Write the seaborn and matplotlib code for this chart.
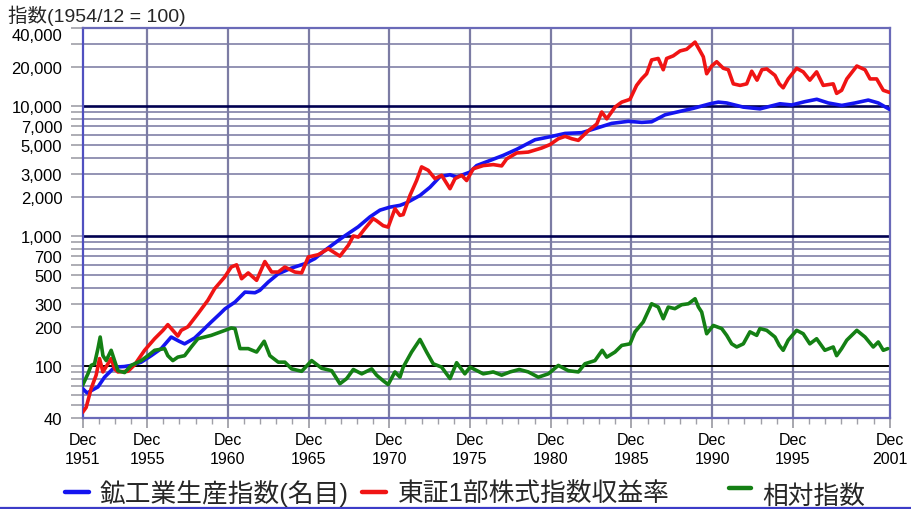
import numpy as np
import pandas as pd
import matplotlib
matplotlib.use("Agg")
import matplotlib.pyplot as plt
import seaborn as sns
from matplotlib.lines import Line2D
from matplotlib.ticker import FixedLocator, NullFormatter

# ---- data (time in fractional years, Dec of a year = year + 11/12) ----
years_ip = [1951.92, 1952.2, 1952.87, 1953.28, 1953.9, 1954.5, 1954.93, 1955.55, 1956.17,
            1956.79, 1957.41, 1957.9, 1958.24, 1958.86, 1959.4, 1959.89, 1960.4, 1960.74,
            1961.36, 1961.98, 1962.6, 1962.9, 1963.42, 1964.04, 1964.87, 1965.69, 1966.31,
            1966.93, 1967.97, 1968.99, 1969.72, 1970.34, 1970.96, 1971.58, 1971.99, 1972.82,
            1973.44, 1974.06, 1974.68, 1975.09, 1975.92, 1976.33, 1977.16, 1977.98, 1978.81,
            1979.95, 1980.88, 1981.81, 1982.84, 1983.67, 1984.7, 1985.72, 1986.56, 1987.17,
            1988.0, 1988.72, 1989.75, 1990.79, 1991.3, 1991.82, 1992.85, 1993.88, 1994.5,
            1995.12, 1995.85, 1996.67, 1997.4, 1998.11, 1998.95, 1999.77, 2000.59, 2001.21,
            2001.92]
ip_index = [67, 62, 69, 82, 98, 99, 101, 107, 120,
            136, 167, 155, 148, 164, 190, 218, 250, 275,
            310, 370, 366, 382, 442, 512, 567, 612, 670,
            775, 965, 1175, 1402, 1580, 1667, 1720, 1800, 2050,
            2370, 2860, 2960, 2840, 3100, 3480, 3810, 4170, 4640,
            5500, 5800, 6150, 6230, 6700, 7350, 7620, 7480, 7560,
            8550, 8970, 9590, 10400, 10710, 10550, 9800, 9500, 9940,
            10400, 10180, 10800, 11260, 10550, 10100, 10550, 11100, 10550,
            9400]

years_tse = [1951.92, 1952.14, 1952.45, 1952.76, 1952.97, 1953.18, 1953.49, 1953.69, 1953.9,
             1954.11, 1954.73, 1955.14, 1955.76, 1956.38, 1956.9, 1957.2, 1957.51, 1957.82,
             1958.03, 1958.44, 1959.06, 1959.68, 1960.1, 1960.72, 1961.13, 1961.46, 1961.77,
             1962.18, 1962.7, 1963.21, 1963.63, 1964.04, 1964.45, 1965.07, 1965.49, 1965.9,
             1966.52, 1967.14, 1967.86, 1968.38, 1968.69, 1969.0, 1969.41, 1969.92, 1970.13,
             1970.54, 1970.85, 1971.27, 1971.58, 1971.78, 1972.2, 1972.61, 1972.92, 1973.33,
             1973.75, 1974.16, 1974.68, 1974.99, 1975.4, 1975.71, 1976.12, 1976.74, 1977.36,
             1977.88, 1978.19, 1978.81, 1979.53, 1980.36, 1980.88, 1981.39, 1981.81, 1982.22,
             1982.63, 1983.25, 1983.77, 1984.08, 1984.39, 1984.9, 1985.32, 1985.83, 1986.24,
             1986.55, 1986.86, 1987.17, 1987.58, 1987.89, 1988.1, 1988.51, 1988.93, 1989.34,
             1989.86, 1990.17, 1990.37, 1990.58, 1990.89, 1991.2, 1991.61, 1991.92, 1992.23,
             1992.65, 1993.06, 1993.37, 1993.7, 1994.0, 1994.3, 1994.81, 1995.08, 1995.32,
             1995.63, 1996.15, 1996.56, 1996.97, 1997.39, 1997.8, 1998.42, 1998.63, 1998.94,
             1999.26, 1999.88, 2000.39, 2000.7, 2001.11, 2001.52, 2001.92]
tse_return = [44, 48, 67, 85, 114, 90, 104, 114, 95,
              90, 91, 102, 132, 162, 188, 208, 188, 170,
              188, 200, 252, 320, 393, 483, 577, 600, 469,
              520, 456, 636, 528, 528, 577, 528, 520, 689,
              718, 798, 700, 848, 1000, 980, 1140, 1360, 1310,
              1200, 1170, 1620, 1440, 1460, 2050, 2670, 3400, 3200,
              2760, 2930, 2310, 2760, 2930, 2670, 3290, 3480, 3540,
              3460, 3920, 4350, 4420, 4750, 5050, 5600, 5840, 5600,
              5440, 6450, 7260, 8990, 7960, 9800, 10710, 11250, 14400,
              16150, 17700, 22600, 23200, 19000, 23200, 24300, 26500, 27300,
              31000, 26500, 23900, 17700, 20300, 21900, 19500, 19000, 14800,
              14400, 14800, 18500, 15800, 19000, 19300, 17200, 14800, 13800,
              16150, 19500, 18300, 15800, 18300, 14400, 14800, 12500, 13200,
              16150, 20300, 19000, 16150, 16150, 13200, 12700]

years_rel = [1951.92, 1952.25, 1952.45, 1952.66, 1952.87, 1953.01, 1953.18, 1953.38, 1953.69,
             1953.9, 1954.11, 1954.52, 1954.93, 1955.55, 1955.97, 1956.38, 1957.0, 1957.2,
             1957.51, 1957.82, 1958.24, 1958.65, 1959.06, 1959.89, 1960.74, 1961.13, 1961.36,
             1961.67, 1962.18, 1962.7, 1963.17, 1963.52, 1964.04, 1964.45, 1964.87, 1965.49,
             1966.11, 1966.73, 1967.35, 1967.86, 1968.28, 1968.69, 1969.21, 1969.83, 1970.13,
             1970.54, 1970.85, 1971.27, 1971.58, 1971.78, 1972.3, 1972.82, 1973.23, 1973.64,
             1974.16, 1974.68, 1975.09, 1975.6, 1975.92, 1976.74, 1977.36, 1977.88, 1978.4,
             1978.97, 1979.53, 1980.15, 1980.77, 1981.39, 1982.01, 1982.63, 1983.04, 1983.66,
             1984.11, 1984.39, 1984.9, 1985.32, 1985.83, 1986.14, 1986.65, 1987.17, 1987.58,
             1987.89, 1988.2, 1988.61, 1989.03, 1989.45, 1989.86, 1990.07, 1990.27, 1990.58,
             1990.99, 1991.51, 1991.82, 1992.13, 1992.44, 1992.85, 1993.26, 1993.68, 1993.88,
             1994.3, 1994.81, 1995.08, 1995.32, 1995.63, 1996.15, 1996.56, 1996.97, 1997.39,
             1997.9, 1998.42, 1998.63, 1998.94, 1999.26, 1999.88, 2000.39, 2000.9, 2001.21,
             2001.52, 2001.8]
rel_index = [71, 87, 101, 104, 136, 167, 120, 110, 132,
             110, 92, 89, 101, 110, 120, 132, 136, 120,
             110, 117, 120, 140, 162, 172, 188, 196, 194,
             136, 136, 128, 155, 120, 107, 107, 95, 91,
             110, 96, 92, 73, 80, 94, 87, 95, 85,
             77, 72, 90, 82, 98, 128, 160, 128, 104,
             98, 80, 106, 87, 98, 87, 90, 85, 90,
             94, 90, 82, 87, 101, 92, 90, 104, 110,
             132, 117, 128, 144, 148, 183, 218, 301, 284,
             231, 284, 276, 296, 301, 329, 284, 260, 177,
             205, 194, 172, 148, 140, 148, 183, 172, 194,
             188, 167, 144, 132, 158, 188, 177, 148, 162,
             132, 140, 120, 136, 158, 188, 167, 140, 153,
             132, 136]

series_names = ["鉱工業生産指数(名目)", "東証1部株式指数収益率", "相対指数"]
series_colors = ["#1414f0", "#f01414", "#148014"]

y_label_values = [40, 100, 200, 300, 500, 700, 1000, 2000, 3000, 5000, 7000,
                  10000, 20000, 40000]
y_grid_values = [50, 60, 70, 80, 90, 200, 300, 400, 500, 600, 700, 800, 900,
                 2000, 3000, 4000, 5000, 6000, 7000, 8000, 9000, 20000, 30000]
x_label_years = [1951, 1955, 1960, 1965, 1970, 1975, 1980, 1985, 1990, 1995, 2001]

df = pd.concat([
    pd.DataFrame({"年": years_ip, "指数": ip_index, "系列": series_names[0]}),
    pd.DataFrame({"年": years_tse, "指数": tse_return, "系列": series_names[1]}),
    pd.DataFrame({"年": years_rel, "指数": rel_index, "系列": series_names[2]}),
], ignore_index=True)

# ---- styling ----
sns.set_theme(style="white")
plt.rcParams["font.family"] = ["Liberation Sans", "Noto Sans CJK JP", "DejaVu Sans"]

fig = plt.figure(figsize=(9.11, 5.10), dpi=100)
ax = fig.add_axes([0.0906, 0.179, 0.886, 0.7647])

grid_col = "#8a8aae"
dec = 11 / 12

# horizontal grid
for v in y_grid_values:
    ax.axhline(v, color=grid_col, lw=1.3, zorder=1)
ax.axhline(100, color="#000000", lw=1.4, zorder=1.5)
for v in (1000, 10000):
    ax.axhline(v, color="#000050", lw=1.9, zorder=1.5)
# vertical grid
for yr in x_label_years[1:-1]:
    ax.axvline(yr + dec, color="#7c7ca4", lw=1.6, zorder=1)

sns.lineplot(data=df, x="年", y="指数", hue="系列", hue_order=series_names,
             palette=dict(zip(series_names, series_colors)), estimator=None,
             sort=False, lw=2.6, legend=False, ax=ax, zorder=3)

ax.set_yscale("log")
ax.set_ylim(40, 40000)
ax.set_xlim(1951 + dec, 2001 + dec)

ax.yaxis.set_major_locator(FixedLocator(y_label_values))
ax.yaxis.set_minor_locator(FixedLocator([v for v in y_grid_values if v not in y_label_values]))
ax.yaxis.set_minor_formatter(NullFormatter())
ax.set_yticklabels([f"{v:,}" for v in y_label_values])

ax.xaxis.set_major_locator(FixedLocator([y + dec for y in x_label_years]))
ax.xaxis.set_minor_locator(FixedLocator([y + dec for y in range(1952, 2001)]))
ax.xaxis.set_minor_formatter(NullFormatter())
ax.set_xticklabels([f"Dec\n{y}" for y in x_label_years], linespacing=1.35)

ax.tick_params(axis="y", which="both", left=True, length=8.6, width=1.2,
               color="#a0a0a8", pad=6, labelsize=12, labelcolor="#000000")
ax.tick_params(axis="x", which="major", bottom=True, length=7, width=1.3,
               color="#a0a0a8", pad=3, labelsize=11.5, labelcolor="#000000")
ax.tick_params(axis="x", which="minor", bottom=True, length=4, width=1.0,
               color="#a0a0a8")
ax.set_xlabel("")
ax.set_ylabel("")

# nudge the topmost tick label down a little, clear of the axis title
ax.get_yticklabels()[-1].set_va("top")
ax.get_yticklabels()[-1].set_y(40000)

for side in ("left", "right", "top", "bottom"):
    ax.spines[side].set_color("#6a6ab8")
    ax.spines[side].set_linewidth(1.6)
ax.spines["left"].set_color("#5050c0")

fig.text(8 / 911, 1 - 16 / 510, "指数(1954/12 = 100)", fontsize=14,
         ha="left", va="center")

# legend row
W, H = 911, 510
legend_items = [
    (65, 89, 493, 100, 494, series_colors[0], series_names[0]),
    (362, 386, 493, 398, 494, series_colors[1], series_names[1]),
    (729, 751, 489, 762, 497, series_colors[2], series_names[2]),
]
for x0, x1, ly, tx, ty, col, name in legend_items:
    fig.add_artist(Line2D([x0 / W, x1 / W], [1 - ly / H, 1 - ly / H],
                          transform=fig.transFigure, color=col, lw=3.2))
    fig.text(tx / W, 1 - ty / H, name, fontsize=18.5, ha="left", va="center")

fig.add_artist(Line2D([0, 1], [1 - 508.5 / H, 1 - 508.5 / H],
                      transform=fig.transFigure, color="#3c3cc8", lw=1.6))

fig.savefig("out.png", dpi=100, facecolor="white")
